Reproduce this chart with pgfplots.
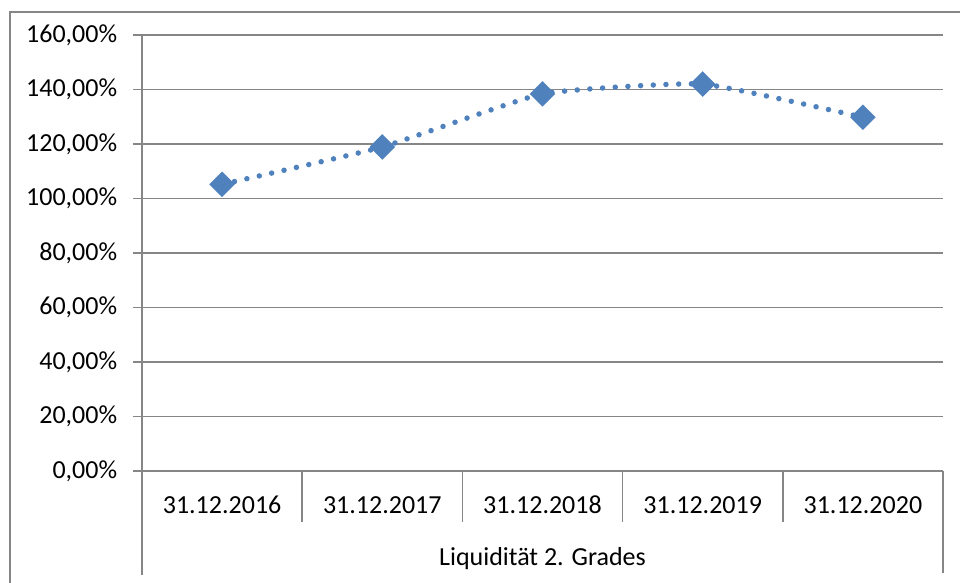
\documentclass[border=0pt]{standalone}
\usepackage{pgfplots}
\pgfplotsset{compat=1.18}
\usepackage{fontspec}
\setmainfont{Carlito}
\definecolor{gridcol}{HTML}{868686}
\definecolor{serblue}{HTML}{4F81BD}
\begin{document}
\fontsize{26bp}{31bp}\selectfont
\begin{tikzpicture}
\path[use as bounding box] (0,0) rectangle (960bp,583bp);
\draw[gridcol, line width=1.8bp] (10bp,0) -- (10bp,571bp) -- (960bp,571bp);
\begin{axis}[
  at={(142bp,112bp)}, anchor=south west,
  scale only axis, width=801bp, height=436bp,
  xmin=-0.5, xmax=4.5, ymin=0, ymax=160,
  axis x line=bottom, axis y line=left,
  axis line style={-, gridcol, line width=1.6bp},
  xtick={0,1,2,3,4},
  xticklabels={31.12.2016,31.12.2017,31.12.2018,31.12.2019,31.12.2020},
  xtick style={draw=none},
  xticklabel style={anchor=center, yshift=-25bp},
  ytick={0,20,40,60,80,100,120,140,160},
  yticklabels={{0,00\%},{20,00\%},{40,00\%},{60,00\%},{80,00\%},{100,00\%},{120,00\%},{140,00\%},{160,00\%}},
  yticklabel style={xshift=-7bp},
  ytick style={gridcol, line width=1.6bp},
  tick align=outside, major tick length=9bp,
  ymajorgrids, grid style={gridcol, line width=1.6bp},
  xlabel={Liquidität 2. Grades},
  xlabel style={at={(axis description cs:0.5,0)}, anchor=center, yshift=-88bp},
  clip=false,
]
\addplot[serblue, line width=5.5bp, line cap=round, dash pattern=on 0pt off 12.7bp, smooth, tension=0.25,
  mark=square*, mark size=6.3bp, mark options={solid, rotate=45, fill=serblue, draw=none}]
  coordinates {(0,105.2) (1,118.9) (2,138.4) (3,142.0) (4,129.8)};
\draw[gridcol, line width=1.6bp] (axis cs:-0.5,0) ++(-9bp,0bp) -- (axis cs:4.5,0);
\draw[gridcol, line width=1.6bp] (axis cs:0.5,0) -- ++(0bp,-51bp);
\draw[gridcol, line width=1.6bp] (axis cs:1.5,0) -- ++(0bp,-51bp);
\draw[gridcol, line width=1.6bp] (axis cs:2.5,0) -- ++(0bp,-51bp);
\draw[gridcol, line width=1.6bp] (axis cs:3.5,0) -- ++(0bp,-51bp);
\draw[gridcol, line width=1.6bp] (axis cs:-0.5,0) -- ++(0bp,-104bp);
\draw[gridcol, line width=1.6bp] (axis cs:4.5,0) -- ++(0bp,-102bp);
\end{axis}
\end{tikzpicture}
\end{document}
